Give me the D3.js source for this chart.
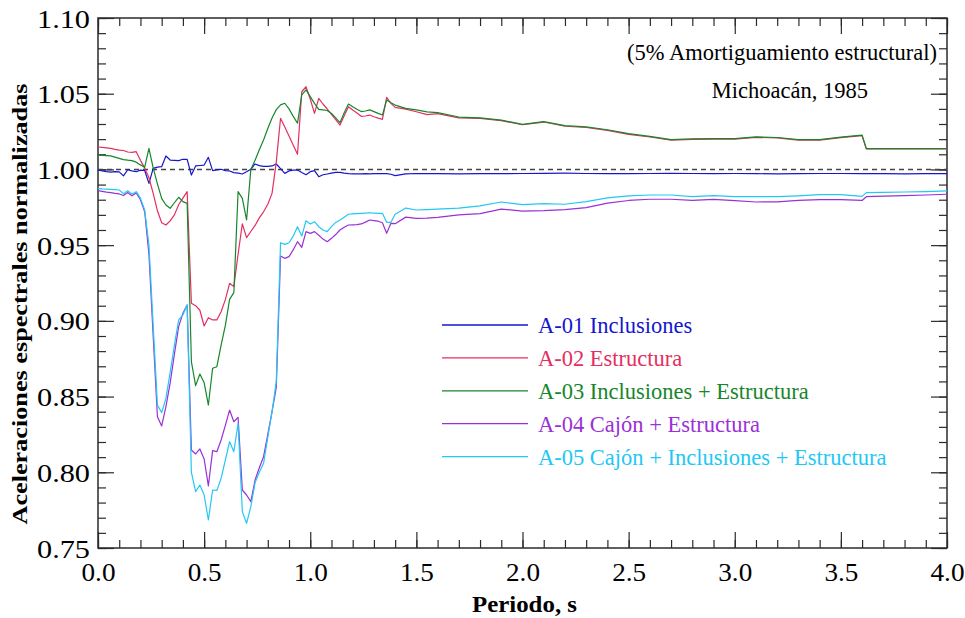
<!DOCTYPE html>
<html>
<head>
<meta charset="utf-8">
<script src="https://cdn.jsdelivr.net/npm/d3@7"></script>
<style>
  html, body { margin: 0; padding: 0; background: #fff; }
  svg { display: block; }
</style>
</head>
<body>
<svg id="chart" width="965" height="618"></svg>
<script>
// Periods (s) at which the normalized spectral accelerations are given
const periods = [
  0.00, 0.02, 0.04, 0.06, 0.08, 0.10, 0.12, 0.14, 0.16, 0.18,
  0.20, 0.22, 0.24, 0.26, 0.28, 0.30, 0.32, 0.34, 0.36, 0.38,
  0.40, 0.42, 0.44, 0.46, 0.48, 0.50, 0.52, 0.54, 0.56, 0.58,
  0.60, 0.62, 0.64, 0.66, 0.68, 0.70, 0.72, 0.74, 0.76, 0.78,
  0.80, 0.82, 0.84, 0.86, 0.88, 0.90, 0.92, 0.94, 0.96, 0.98,
  1.00, 1.02, 1.04, 1.06, 1.08, 1.10, 1.12, 1.14, 1.16, 1.18,
  1.20, 1.22, 1.24, 1.26, 1.28, 1.30, 1.32, 1.34, 1.36, 1.38,
  1.40, 1.45, 1.50, 1.55, 1.60, 1.70, 1.80, 1.90, 2.00, 2.10,
  2.20, 2.30, 2.40, 2.50, 2.60, 2.70, 2.80, 2.90, 3.00, 3.10,
  3.20, 3.30, 3.40, 3.50, 3.60, 3.62, 3.70, 3.80, 3.90, 4.00
];

// A-01 Inclusiones
const a01 = [
  0.9996, 0.9990, 0.9985, 0.9982, 0.9985, 0.9984, 0.9957, 0.9998, 0.9990, 0.9985,
  0.9995, 0.9993, 0.9908, 1.0007, 1.0015, 1.0018, 1.0089, 1.0062, 1.0060, 1.0058,
  1.0067, 1.0067, 0.9963, 1.0023, 1.0026, 1.0029, 1.0080, 0.9992, 0.9997, 1.0001,
  0.9992, 0.9990, 0.9979, 0.9975, 0.9970, 0.9985, 1.0001, 1.0036, 1.0025, 1.0020,
  1.0020, 1.0023, 1.0036, 1.0005, 0.9974, 0.9990, 0.9995, 0.9996, 0.9980, 0.9965,
  0.9985, 0.9992, 0.9952, 0.9965, 0.9970, 0.9975, 0.9980, 0.9981, 0.9976, 0.9972,
  0.9970, 0.9970, 0.9971, 0.9972, 0.9971, 0.9972, 0.9972, 0.9973, 0.9972, 0.9968,
  0.9959, 0.9971, 0.9973, 0.9972, 0.9972, 0.9971, 0.9972, 0.9972, 0.9973, 0.9974,
  0.9975, 0.9973, 0.9972, 0.9972, 0.9973, 0.9974, 0.9973, 0.9972, 0.9973, 0.9972,
  0.9971, 0.9972, 0.9973, 0.9973, 0.9972, 0.9972, 0.9972, 0.9971, 0.9972, 0.9972
];

// A-02 Estructura
const a02 = [
  1.0148, 1.0145, 1.0142, 1.0139, 1.0133, 1.0128, 1.0125, 1.0115, 1.0113, 1.0117,
  1.0060, 1.0010, 0.9945, 0.9842, 0.9727, 0.9648, 0.9633, 0.9660, 0.9700, 0.9767,
  0.9810, 0.9853, 0.9116, 0.9100, 0.9070, 0.8966, 0.9021, 0.9006, 0.9006, 0.9060,
  0.9140, 0.9248, 0.9226, 0.9440, 0.9640, 0.9550, 0.9590, 0.9630, 0.9680, 0.9720,
  0.9770, 0.9842, 1.0050, 1.0338, 1.0280, 1.0220, 1.0160, 1.0100, 1.0513, 1.0546,
  1.0465, 1.0370, 1.0469, 1.0432, 1.0399, 1.0364, 1.0329, 1.0293, 1.0355, 1.0414,
  1.0392, 1.0373, 1.0351, 1.0353, 1.0359, 1.0348, 1.0339, 1.0331, 1.0476, 1.0436,
  1.0410, 1.0398, 1.0381, 1.0362, 1.0368, 1.0340, 1.0337, 1.0322, 1.0295, 1.0313,
  1.0285, 1.0277, 1.0258, 1.0232, 1.0214, 1.0194, 1.0199, 1.0200, 1.0200, 1.0212,
  1.0208, 1.0194, 1.0194, 1.0210, 1.0223, 1.0135, 1.0135, 1.0135, 1.0135, 1.0135
];

// A-03 Inclusiones + Estructura
const a03 = [
  1.0095, 1.0093, 1.0091, 1.0089, 1.0081, 1.0073, 1.0065, 1.0061, 1.0058, 1.0048,
  1.0030, 1.0015, 1.0139, 1.0010, 0.9905, 0.9809, 0.9765, 0.9743, 0.9780, 0.9816,
  0.9787, 0.9776, 0.8730, 0.8572, 0.8649, 0.8592, 0.8444, 0.8687, 0.8697, 0.8840,
  0.8970, 0.9142, 0.9186, 0.9853, 0.9809, 0.9666, 1.0000, 1.0060, 1.0130, 1.0194,
  1.0270, 1.0340, 1.0395, 1.0426, 1.0437, 1.0400, 1.0350, 1.0305, 1.0492, 1.0525,
  1.0481, 1.0436, 1.0397, 1.0393, 1.0389, 1.0370, 1.0340, 1.0309, 1.0375, 1.0432,
  1.0414, 1.0397, 1.0382, 1.0386, 1.0393, 1.0382, 1.0370, 1.0359, 1.0458, 1.0441,
  1.0425, 1.0403, 1.0393, 1.0380, 1.0375, 1.0346, 1.0341, 1.0326, 1.0298, 1.0316,
  1.0289, 1.0281, 1.0262, 1.0236, 1.0218, 1.0197, 1.0202, 1.0203, 1.0203, 1.0215,
  1.0211, 1.0197, 1.0197, 1.0213, 1.0226, 1.0137, 1.0137, 1.0137, 1.0137, 1.0137
];

// A-04 Cajón + Estructura
const a04 = [
  0.9860, 0.9855, 0.9850, 0.9847, 0.9842, 0.9838, 0.9828, 0.9847, 0.9826, 0.9845,
  0.9800, 0.9721, 0.9440, 0.8900, 0.8367, 0.8306, 0.8434, 0.8590, 0.8780, 0.8962,
  0.9050, 0.9105, 0.8147, 0.8121, 0.8154, 0.8088, 0.7910, 0.8143, 0.8136, 0.8213,
  0.8310, 0.8411, 0.8334, 0.8363, 0.7883, 0.7850, 0.7806, 0.7949, 0.8030, 0.8103,
  0.8250, 0.8400, 0.8560, 0.9428, 0.9413, 0.9424, 0.9470, 0.9523, 0.9486, 0.9589,
  0.9578, 0.9589, 0.9565, 0.9540, 0.9523, 0.9545, 0.9570, 0.9600, 0.9618, 0.9633,
  0.9634, 0.9635, 0.9640, 0.9652, 0.9666, 0.9662, 0.9658, 0.9648, 0.9578, 0.9644,
  0.9642, 0.9685, 0.9677, 0.9678, 0.9683, 0.9700, 0.9708, 0.9738, 0.9725, 0.9728,
  0.9735, 0.9748, 0.9778, 0.9795, 0.9803, 0.9803, 0.9796, 0.9802, 0.9794, 0.9785,
  0.9786, 0.9795, 0.9801, 0.9801, 0.9795, 0.9820, 0.9824, 0.9827, 0.9831, 0.9836
];

// A-05 Cajón + Inclusiones + Estructura
const a05 = [
  0.9875, 0.9872, 0.9870, 0.9868, 0.9866, 0.9864, 0.9840, 0.9860, 0.9838, 0.9853,
  0.9810, 0.9732, 0.9500, 0.8970, 0.8444, 0.8394, 0.8488, 0.8660, 0.8840, 0.9006,
  0.9039, 0.9105, 0.8000, 0.7872, 0.7916, 0.7850, 0.7685, 0.7883, 0.7880, 0.7960,
  0.8080, 0.8202, 0.8136, 0.8324, 0.7740, 0.7663, 0.7773, 0.7930, 0.8000, 0.8059,
  0.8230, 0.8400, 0.8600, 0.9516, 0.9505, 0.9516, 0.9560, 0.9622, 0.9560, 0.9661,
  0.9640, 0.9655, 0.9622, 0.9600, 0.9589, 0.9622, 0.9650, 0.9666, 0.9685, 0.9704,
  0.9706, 0.9708, 0.9710, 0.9712, 0.9714, 0.9712, 0.9710, 0.9710, 0.9651, 0.9651,
  0.9704, 0.9745, 0.9732, 0.9735, 0.9738, 0.9745, 0.9759, 0.9785, 0.9768, 0.9774,
  0.9770, 0.9787, 0.9812, 0.9825, 0.9831, 0.9831, 0.9821, 0.9827, 0.9820, 0.9820,
  0.9820, 0.9825, 0.9833, 0.9834, 0.9822, 0.9847, 0.9849, 0.9851, 0.9854, 0.9858
];

const seriesNames = [
  "A-01 Inclusiones",
  "A-02 Estructura",
  "A-03 Inclusiones + Estructura",
  "A-04 Cajón + Estructura",
  "A-05 Cajón + Inclusiones + Estructura"
];
const seriesValues = [a01, a02, a03, a04, a05];
const seriesColors = ["#1616cc", "#e42f60", "#17862b", "#9a30d6", "#22c8f4"];

const xMajorTicks = [0.0, 0.5, 1.0, 1.5, 2.0, 2.5, 3.0, 3.5, 4.0];
const yMajorTicks = [0.75, 0.80, 0.85, 0.90, 0.95, 1.00, 1.05, 1.10];
const referenceLevel = 1.0;

const notes = ["(5% Amortiguamiento estructural)", "Michoacán, 1985"];
const xTitle = "Periodo, s";
const yTitle = "Aceleraciones espectrales normalizadas";

// ---- layout ----
const W = 965, H = 618;
const L = 98, R = 947, T = 18, B = 548;
const axisColor = "#2b2b2b";
const FONT = "Liberation Serif";

const svg = d3.select("#chart");
svg.append("rect").attr("width", W).attr("height", H).attr("fill", "#fff");

const x = d3.scaleLinear().domain([0, 4]).range([L, R]);
const y = d3.scaleLinear().domain([0.75, 1.10]).range([B, T]);

const xMinor = d3.range(0, 41).map(i => i / 10);
const yMinor = d3.range(0, 36).map(i => 0.75 + i / 100);

function styleAxis(g) {
  g.select(".domain").remove();
  g.attr("font-family", FONT);
  g.selectAll(".tick line").attr("stroke", axisColor).attr("stroke-width", 1.2);
  g.selectAll("text").attr("fill", "#000").attr("font-family", FONT);
}

// minor ticks on all four sides (inward)
svg.append("g").attr("transform", `translate(0,${B})`)
  .call(d3.axisBottom(x).tickValues(xMinor).tickSize(-8).tickFormat(""))
  .call(styleAxis);
svg.append("g").attr("transform", `translate(0,${T})`)
  .call(d3.axisTop(x).tickValues(xMinor).tickSize(-8).tickFormat(""))
  .call(styleAxis);
svg.append("g").attr("transform", `translate(${L},0)`)
  .call(d3.axisLeft(y).tickValues(yMinor).tickSize(-8).tickFormat(""))
  .call(styleAxis);
svg.append("g").attr("transform", `translate(${R},0)`)
  .call(d3.axisRight(y).tickValues(yMinor).tickSize(-8).tickFormat(""))
  .call(styleAxis);

// major ticks with labels
const xAxisG = svg.append("g").attr("transform", `translate(0,${B})`)
  .call(d3.axisBottom(x).tickValues(xMajorTicks).tickSize(-16).tickPadding(15)
    .tickFormat(d3.format(".1f")))
  .call(styleAxis);
xAxisG.selectAll("text")
  .attr("font-size", 26).attr("y", 33).attr("dy", null)
  .attr("textLength", 34).attr("lengthAdjust", "spacingAndGlyphs");

svg.append("g").attr("transform", `translate(0,${T})`)
  .call(d3.axisTop(x).tickValues(xMajorTicks).tickSize(-16).tickFormat(""))
  .call(styleAxis);

const yAxisG = svg.append("g").attr("transform", `translate(${L},0)`)
  .call(d3.axisLeft(y).tickValues(yMajorTicks).tickSize(-16).tickPadding(8)
    .tickFormat(d3.format(".2f")))
  .call(styleAxis);
yAxisG.selectAll("text")
  .attr("font-size", 26).attr("x", -8).attr("dy", null).attr("y", 9)
  .attr("textLength", 53).attr("lengthAdjust", "spacingAndGlyphs");

svg.append("g").attr("transform", `translate(${R},0)`)
  .call(d3.axisRight(y).tickValues(yMajorTicks).tickSize(-16).tickFormat(""))
  .call(styleAxis);

// frame
svg.append("rect")
  .attr("x", L).attr("y", T).attr("width", R - L).attr("height", B - T)
  .attr("fill", "none").attr("stroke", axisColor).attr("stroke-width", 1.5);

// dashed reference line at 1.0
svg.append("line")
  .attr("x1", x(0)).attr("x2", x(4))
  .attr("y1", y(referenceLevel)).attr("y2", y(referenceLevel))
  .attr("stroke", "#444").attr("stroke-width", 1.6)
  .attr("stroke-dasharray", "5,4");

// series
const line = d3.line()
  .x((d, i) => x(periods[i]))
  .y(d => y(d));

seriesValues.forEach((vals, k) => {
  svg.append("path")
    .datum(vals)
    .attr("fill", "none")
    .attr("stroke", seriesColors[k])
    .attr("stroke-width", 1.2)
    .attr("stroke-linejoin", "round")
    .attr("d", line);
});

// legend
const legendX1 = 442, legendX2 = 528, legendTextX = 538;
const legendY0 = 325, legendStep = 32.9;
seriesNames.forEach((name, k) => {
  const yy = legendY0 + k * legendStep;
  svg.append("line")
    .attr("x1", legendX1).attr("x2", legendX2)
    .attr("y1", yy).attr("y2", yy)
    .attr("stroke", seriesColors[k]).attr("stroke-width", 1.3);
  svg.append("text")
    .attr("x", legendTextX).attr("y", yy + 8)
    .attr("font-family", FONT)
    .attr("font-size", 22.5)
    .attr("fill", seriesColors[k])
    .text(name);
});

// annotations
svg.append("text")
  .attr("x", 937).attr("y", 60).attr("text-anchor", "end")
  .attr("font-family", FONT)
  .attr("font-size", 22.5).attr("fill", "#000")
  .text(notes[0]);
svg.append("text")
  .attr("x", 868).attr("y", 98).attr("text-anchor", "end")
  .attr("font-family", FONT)
  .attr("font-size", 22.5).attr("fill", "#000")
  .text(notes[1]);

// axis titles
svg.append("text")
  .attr("x", (L + R) / 2 + 2).attr("y", 612)
  .attr("text-anchor", "middle")
  .attr("font-family", FONT)
  .attr("font-size", 23).attr("font-weight", "bold").attr("fill", "#000")
  .attr("textLength", 105).attr("lengthAdjust", "spacingAndGlyphs")
  .text(xTitle);

svg.append("text")
  .attr("transform", `translate(27,${304}) rotate(-90)`)
  .attr("text-anchor", "middle")
  .attr("font-family", FONT)
  .attr("font-size", 21).attr("font-weight", "bold").attr("fill", "#000")
  .attr("textLength", 441).attr("lengthAdjust", "spacingAndGlyphs")
  .text(yTitle);
</script>
</body>
</html>
